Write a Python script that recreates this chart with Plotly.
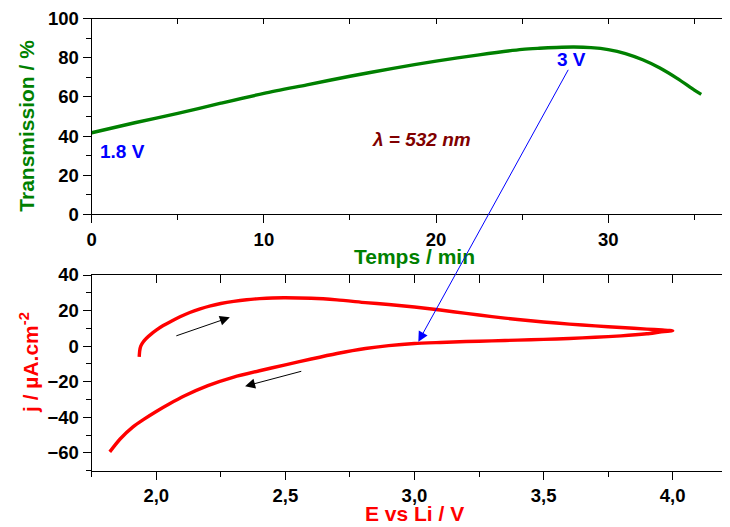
import plotly.graph_objects as go

# ---- data: transmission vs time (top panel) ----
time_min = [0, 2.5, 5, 7.5, 10, 12.5, 15, 17.5, 20, 22.5, 25, 26, 27, 28, 29, 30, 31, 32, 33, 34, 35, 35.4]
transmission = [41.7, 46.8, 51.6, 56.8, 61.8, 66.2, 70.6, 74.6, 78.3, 81.5, 84.3, 84.9, 85.3, 85.5, 85.2, 84.2,
                82.2, 79.0, 74.8, 69.5, 63.5, 61.3]

# ---- data: cyclic voltammogram (bottom panel) ----
E_anodic = [1.934, 1.936, 1.940, 1.950, 1.963, 1.98, 2.00, 2.027, 2.06, 2.092, 2.13, 2.17, 2.21, 2.25, 2.30,
            2.35, 2.40, 2.45, 2.50, 2.60, 2.70, 2.81, 2.90, 3.00, 3.10, 3.20, 3.30, 3.40, 3.50, 3.60, 3.70,
            3.80, 3.90, 3.96, 4.00]
j_anodic = [-6.0, -2.5, 0.0, 2.5, 4.6, 6.8, 9.0, 11.6, 14.2, 16.5, 18.9, 21.0, 22.7, 24.0, 25.2,
            26.1, 26.7, 27.1, 27.2, 26.9, 26.0, 24.5, 23.4, 22.0, 20.3, 18.4, 16.6, 15.0, 13.6, 12.4, 11.4,
            10.5, 9.6, 9.1, 8.7]
E_cathodic = [3.95, 3.90, 3.80, 3.70, 3.60, 3.50, 3.40, 3.30, 3.20, 3.10, 3.00, 2.90, 2.81, 2.70, 2.60,
              2.50, 2.40, 2.30, 2.20, 2.11, 2.05, 2.00, 1.95, 1.91, 1.86, 1.82]
j_cathodic = [7.9, 7.0, 5.8, 5.0, 4.3, 3.8, 3.4, 3.0, 2.6, 2.1, 1.5, 0.3, -1.3, -4.1, -7.2,
              -10.5, -13.8, -17.4, -22.2, -27.9, -32.5, -36.7, -41.3, -45.4, -52.2, -59.4]

E_all = E_anodic + E_cathodic
j_all = j_anodic + j_cathodic

# the page body has an 8px margin, so the figure is 8px smaller and every
# reference pixel position is shifted by 8px
OFF = 8
W, H = 730 - OFF, 527 - OFF
FONT = "Liberation Sans, Arial, sans-serif"
GREEN = "#008000"
RED = "#ff0000"
BLUE = "#0000ff"
DARKRED = "#800000"

def px(x):
    return (x - OFF) / W

def py(y):
    return 1 - (y - OFF) / H

xdom = [px(91.7), 1.0]
ydom_top = [py(214.3), py(18.7)]
ydom_bot = [py(470.7), py(275.0)]
t_range = [0, 37.07]
T_range = [0, 100]
E_range = [1.75, 4.222]
j_range = [-70, 40]

tickfont = dict(family=FONT, size=18.5, color="black", weight="bold")

fig = go.Figure()
fig.add_trace(go.Scatter(x=time_min, y=transmission, mode="lines",
                         line=dict(color=GREEN, width=3.4, shape="spline", smoothing=0.8),
                         xaxis="x", yaxis="y", showlegend=False))
fig.add_trace(go.Scatter(x=E_all, y=j_all, mode="lines",
                         line=dict(color=RED, width=3.4, shape="spline", smoothing=0.6),
                         xaxis="x2", yaxis="y2", showlegend=False))
# invisible helpers so the mirrored tick axes are drawn
fig.add_trace(go.Scatter(x=time_min, y=transmission, mode="lines", opacity=0, line=dict(width=0),
                         xaxis="x3", yaxis="y3", showlegend=False, hoverinfo="skip"))
fig.add_trace(go.Scatter(x=E_all, y=j_all, mode="lines", opacity=0, line=dict(width=0),
                         xaxis="x4", yaxis="y4", showlegend=False, hoverinfo="skip"))

base = dict(showline=True, linecolor="black", linewidth=1.3, showgrid=False, zeroline=False, automargin=False,
            ticks="outside", ticklen=8, tickwidth=1.3, tickcolor="black", tickfont=tickfont)
mirror = dict(showline=True, linecolor="black", linewidth=1.3, showgrid=False, zeroline=False, automargin=False,
              ticks="inside", tickwidth=1.3, tickcolor="black", showticklabels=False)
minor_t = dict(ticks="outside", ticklen=5, tickwidth=1.3, tickcolor="black", tick0=0)

fig.update_layout(
    width=W, height=H, margin=dict(l=0, r=0, t=0, b=0, pad=0, autoexpand=False),
    paper_bgcolor="white", plot_bgcolor="white",
    separators=", ",
    font=dict(family=FONT),
    xaxis=dict(base, domain=xdom, range=t_range, anchor="y", tick0=0, dtick=10, minor=dict(minor_t, dtick=5)),
    yaxis=dict(base, domain=ydom_top, range=T_range, anchor="x", tick0=0, dtick=20, minor=dict(minor_t, dtick=10)),
    xaxis3=dict(mirror, range=t_range, overlaying="x", side="top", anchor="y", tick0=0, dtick=5, ticklen=5),
    yaxis3=dict(mirror, range=T_range, overlaying="y", side="right", anchor="x", tick0=0, dtick=20, ticklen=5),
    xaxis2=dict(base, domain=xdom, range=E_range, anchor="y2", tick0=0, dtick=0.5, tickformat=".1f",
                minor=dict(minor_t, dtick=0.25)),
    yaxis2=dict(base, domain=ydom_bot, range=j_range, anchor="x2", tick0=0, dtick=20, minor=dict(minor_t, dtick=10)),
    xaxis4=dict(mirror, range=E_range, overlaying="x2", side="top", anchor="y2", tick0=0, dtick=0.25, ticklen=8),
    yaxis4=dict(mirror, range=j_range, overlaying="y2", side="right", anchor="x2", tick0=0, dtick=20, ticklen=5),
)

def label(text, x, y, color, size, angle=0):
    fig.add_annotation(text=text, x=px(x), y=py(y), xref="paper", yref="paper", showarrow=False,
                       xanchor="center", yanchor="middle", textangle=angle,
                       font=dict(family=FONT, size=size, color=color, weight="bold"))

label("Transmission / %", 26.7, 126, GREEN, 21, -90)
label("Temps / min", 414.5, 257, GREEN, 21)
label("j / µA.cm<sup>-2</sup>", 29, 363, RED, 21, -90)
label("E vs Li / V", 415, 513, RED, 21)
label("1.8 V", 122.5, 152, BLUE, 19)
label("3 V", 571, 59, BLUE, 19)
label("<i>λ = 532 nm</i>", 421.5, 139, DARKRED, 19)

# arrows
fig.add_annotation(text="", x=3.015, y=2.5, xref="x2", yref="y2", showarrow=True,
                   ax=150.7, ay=-273.4, arrowcolor=BLUE, arrowwidth=1, arrowhead=2, arrowsize=2)
fig.add_annotation(text="", x=2.285, y=16.2, xref="x2", yref="y2", showarrow=True,
                   ax=-55, ay=19, arrowcolor="black", arrowwidth=1, arrowhead=2, arrowsize=2)
fig.add_annotation(text="", x=2.344, y=-22.5, xref="x2", yref="y2", showarrow=True,
                   ax=57.7, ay=-15.3, arrowcolor="black", arrowwidth=1, arrowhead=2, arrowsize=2)

fig.write_html("out.html")
